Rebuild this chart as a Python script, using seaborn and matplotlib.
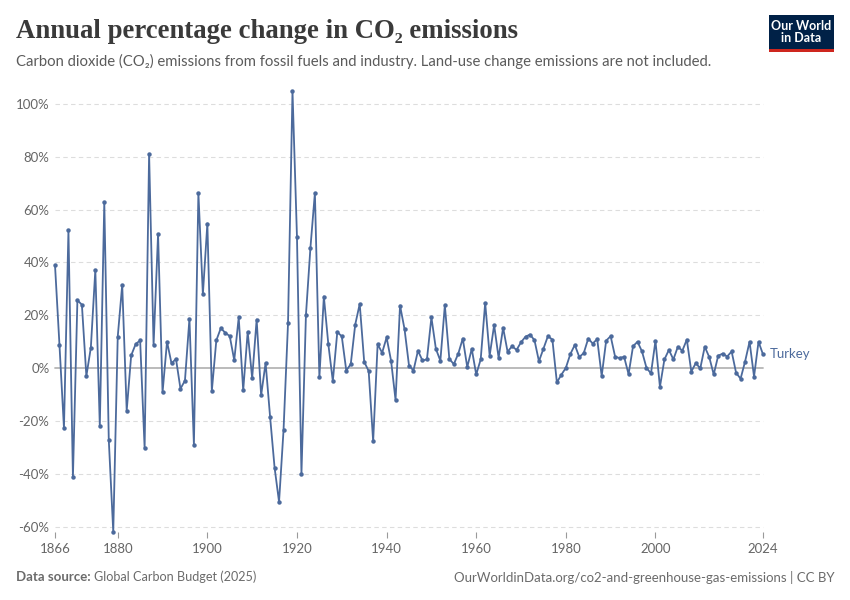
"""
Variação percentual anual das emissões de CO2 — Turquia (1866-2024).
Recria o gráfico de linha no estilo Our World in Data.
"""

import matplotlib
matplotlib.use("Agg")   # renderiza sem abrir janela
import matplotlib.pyplot as plt
import pandas as pd
import seaborn as sns
from matplotlib.patches import Rectangle

# Dados (% de variação anual)
ANOS = list(range(1866, 2025))
VARIACAO = [
    39.0, 8.7, -22.7, 52.1, -41.2, 25.7, 24.0, -3.0, 7.8, 37.2,        # 1866-1875
    -21.9, 62.8, -27.1, -61.9, 11.9, 31.5, -16.1, 4.8, 9.1, 10.5,      # 1876-1885
    -30.3, 81.1, 8.8, 50.7, -9.2, 10.0, 1.8, 3.5, -7.8, -4.7,          # 1886-1895
    18.7, -29.0, 66.3, 27.9, 54.7, -8.6, 10.5, 15.1, 13.4, 12.1,       # 1896-1905
    3.0, 19.2, -8.4, 13.7, -3.8, 18.4, -10.3, 2.0, -18.4, -37.6,       # 1906-1915
    -50.6, -23.5, 16.9, 104.9, 49.6, -40.0, 20.1, 45.5, 66.3, -3.5,    # 1916-1925
    27.1, 9.0, -4.9, 13.7, 12.0, -0.9, 1.5, 16.5, 24.3, 2.4,           # 1926-1935
    -1.1, -27.7, 9.1, 5.8, 11.6, 2.8, -12.1, 23.7, 14.8, 1.0,          # 1936-1945
    -0.9, 6.6, 2.9, 3.3, 19.2, 7.3, 2.8, 23.8, 3.5, 1.5,               # 1946-1955
    5.5, 11.2, 0.4, 7.3, -2.4, 3.3, 24.7, 4.7, 16.3, 3.9,              # 1956-1965
    15.3, 6.2, 8.3, 6.9, 9.8, 11.9, 12.7, 10.6, 2.6, 7.3,              # 1966-1975
    12.1, 10.8, -5.4, -2.5, 0.1, 5.3, 8.8, 4.2, 5.7, 11.2,             # 1976-1985
    9.3, 11.0, -3.0, 10.4, 12.1, 4.3, 3.8, 4.3, -2.3, 8.3,             # 1986-1995
    10.0, 6.3, 0.1, -2.0, 10.3, -7.1, 3.3, 6.9, 3.3, 8.1,              # 1996-2005
    6.6, 10.8, -1.3, 1.9, -0.1, 8.1, 4.2, -2.4, 4.7, 5.5,              # 2006-2015
    4.4, 6.3, -1.8, -4.0, 2.5, 10.0, -3.2, 10.0, 5.2,                  # 2016-2024
]
PAIS = "Turkey"

TICKS_X = [1866, 1880, 1900, 1920, 1940, 1960, 1980, 2000, 2024]
TICKS_Y = [-60, -40, -20, 0, 20, 40, 60, 80, 100]

AZUL = "#4c6a9c"
CINZA_TEXTO = "#5b5b5b"

sns.set_style("white")
plt.rcParams["font.family"] = ["Lato", "DejaVu Sans"]

fig = plt.figure(figsize=(8.5, 6), dpi=100)
W, H = 850, 600
ax = fig.add_axes([55 / W, 1 - 532 / H, (763 - 55) / W, (532 - 88) / H])

df = pd.DataFrame({"ano": ANOS, "variacao": VARIACAO})

# linhas de grade tracejadas + linha do zero
for v in TICKS_Y:
    if v == 0:
        ax.axhline(0, color="#b5b5b5", lw=1.3, zorder=1)
    else:
        ax.axhline(v, color="#dddddd", lw=0.8, ls=(0, (4, 3)), zorder=1)

sns.lineplot(data=df, x="ano", y="variacao", ax=ax, color=AZUL, linewidth=1.3,
             marker="o", markersize=3.2, markeredgewidth=0, zorder=3)
for linha in ax.lines:
    linha.set_clip_on(False)

ax.set_xlim(1866, 2024)
ax.set_ylim(-62, 106)
ax.set_xlabel("")
ax.set_ylabel("")

ax.set_xticks(TICKS_X)
ax.set_xticklabels([str(a) for a in TICKS_X])
ax.set_yticks(TICKS_Y)
ax.set_yticklabels([f"{v}%" for v in TICKS_Y])
ax.tick_params(axis="x", length=4, width=0.8, color="#9a9a9a", labelcolor="#666666",
               labelsize=9.5, pad=4, direction="out", bottom=True)
ax.tick_params(axis="y", length=0, labelcolor="#666666", labelsize=9.5, pad=4)
for s in ax.spines.values():
    s.set_visible(False)

ax.annotate(PAIS, xy=(2024, VARIACAO[-1]), xytext=(5, 0), textcoords="offset points",
            color=AZUL, fontsize=9.5, va="center", ha="left", annotation_clip=False)

# títulos
fig.text(16 / W, 1 - 32 / H, "Annual percentage change in CO₂ emissions",
         family=["Liberation Serif", "DejaVu Serif"], fontsize=19.3, fontweight="bold",
         color="#3a3a3a", va="center", ha="left")
fig.text(16 / W, 1 - 61 / H,
         "Carbon dioxide (CO₂) emissions from fossil fuels and industry. "
         "Land-use change emissions are not included.",
         fontsize=10.7, color=CINZA_TEXTO, va="center", ha="left")

# logo OWID
fig.add_artist(Rectangle((769 / W, 1 - 49 / H), 65 / W, 34 / H,
                         transform=fig.transFigure, color="#002147", lw=0))
fig.add_artist(Rectangle((769 / W, 1 - 52 / H), 65 / W, 3 / H,
                         transform=fig.transFigure, color="#ce261e", lw=0))
fig.text(801.5 / W, 1 - 32 / H, "Our World\nin Data", color="white", fontsize=9,
         ha="center", va="center", linespacing=1.0, fontweight="bold")

# rodapé
t_fonte = fig.text(16 / W, 1 - 577 / H, "Data source:", fontsize=9.5,
                   fontweight="bold", color="#6b6b6b", va="center", ha="left")
fig.canvas.draw()
bb = t_fonte.get_window_extent()
fig.text((bb.x1 + 3) / W, 1 - 577 / H, "Global Carbon Budget (2025)", fontsize=9.1,
         color="#6b6b6b", va="center", ha="left")
fig.text(835 / W, 1 - 577 / H,
         "OurWorldinData.org/co2-and-greenhouse-gas-emissions | CC BY",
         fontsize=9.5, color="#6b6b6b", va="center", ha="right")

fig.savefig("out.png", dpi=100)
plt.close(fig)
